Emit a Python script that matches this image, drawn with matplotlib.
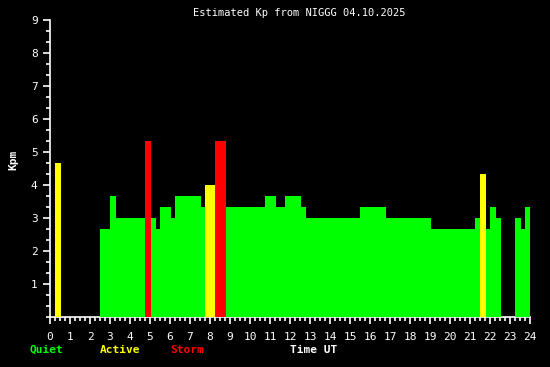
import matplotlib
matplotlib.use("Agg")
import matplotlib.pyplot as plt
from matplotlib.ticker import MultipleLocator
import numpy as np

# segments of estimated Kp (start hour, end hour, value)
t_start = [0.25, 2.5, 3.0, 3.3, 4.75, 5.05, 5.3, 5.5, 6.05, 6.25, 7.55, 7.75,
           8.25, 8.8, 10.75, 11.3, 11.75, 12.55, 12.8, 15.5, 16.8, 19.05,
           21.25, 21.5, 21.8, 22.0, 22.3, 23.25, 23.55, 23.75]
t_end = [0.55, 3.0, 3.3, 4.75, 5.05, 5.3, 5.5, 6.05, 6.25, 7.55, 7.75, 8.25,
         8.8, 10.75, 11.3, 11.75, 12.55, 12.8, 15.5, 16.8, 19.05, 21.25,
         21.5, 21.8, 22.0, 22.3, 22.55, 23.55, 23.75, 24.05]
kp = [4.67, 2.67, 3.67, 3.0, 5.33, 3.0, 2.67, 3.33, 3.0, 3.67, 3.33, 4.0,
      5.33, 3.33, 3.67, 3.33, 3.67, 3.33, 3.0, 3.33, 3.0, 2.67,
      3.0, 4.33, 2.67, 3.33, 3.0, 3.0, 2.67, 3.33]

legend_names = ["Quiet", "Active", "Storm"]
legend_colors = ["#00ff00", "#ffff00", "#ff0000"]


def kp_color(v):
    if v < 4:
        return legend_colors[0]
    elif v < 5:
        return legend_colors[1]
    return legend_colors[2]


mono = "DejaVu Sans Mono"
fig = plt.figure(figsize=(5.5, 3.67), dpi=100, facecolor="black")
ax = fig.add_axes([50 / 550, 50 / 367, 480 / 550, 297 / 367])
ax.set_facecolor("black")

widths = np.array(t_end) - np.array(t_start)
ax.bar(t_start, kp, width=widths, align="edge",
       color=[kp_color(v) for v in kp], linewidth=0, zorder=3)

ax.set_xlim(0, 24)
ax.set_ylim(0, 9)

for s in ["top", "right"]:
    ax.spines[s].set_visible(False)
for s in ["left", "bottom"]:
    ax.spines[s].set_color("white")
    ax.spines[s].set_linewidth(1.2)
    ax.spines[s].set_zorder(2)

ax.set_xticks(range(0, 25))
ax.xaxis.set_minor_locator(MultipleLocator(0.25))
ax.set_yticks(range(1, 10))
ax.yaxis.set_minor_locator(MultipleLocator(1 / 3))
ax.tick_params(axis="x", which="major", length=5, width=1.2, color="white",
               labelcolor="white", labelsize=8, pad=6)
ax.tick_params(axis="x", which="minor", length=3, width=1.2, color="white")
ax.tick_params(axis="y", which="major", length=5, width=1.2, color="white",
               labelcolor="white", labelsize=8, pad=4)
ax.tick_params(axis="y", which="minor", length=3, width=1.2, color="white")
for lab in ax.get_xticklabels() + ax.get_yticklabels():
    lab.set_family(mono)

fig.text(299 / 550, 1 - 13 / 367, "Estimated Kp from NIGGG 04.10.2025",
         color="white", fontsize=7.5, family=mono, ha="center", va="center")
fig.text(13 / 550, 1 - 160 / 367, "Kpm", color="white", fontsize=8,
         family=mono, fontweight="bold", rotation=90, ha="center", va="center")

for name, col, x in zip(legend_names, legend_colors, [30, 100, 170]):
    fig.text(x / 550, 1 - 350 / 367, name, color=col, fontsize=8,
             family=mono, fontweight="bold", ha="left", va="center")
fig.text(290 / 550, 1 - 350 / 367, "Time UT", color="white", fontsize=8,
         family=mono, fontweight="bold", ha="left", va="center")

fig.savefig("out.png", dpi=100, facecolor="black")
